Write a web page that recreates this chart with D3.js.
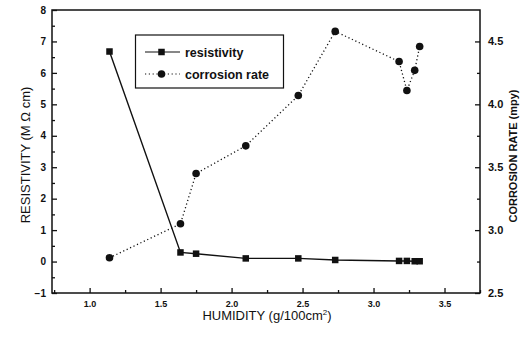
<!DOCTYPE html>
<html>
<head>
<meta charset="utf-8">
<script src="https://cdn.jsdelivr.net/npm/d3@7/dist/d3.min.js"></script>
<style>
  html, body { margin: 0; padding: 0; background: #fff; }
  svg { display: block; font-family: "Liberation Sans", Arial, sans-serif; }
</style>
</head>
<body>
<svg id="chart" width="528" height="341"></svg>
<script>
// Humidity (g/100cm^2) of each sample
const humidity = [1.14, 1.64, 1.75, 2.10, 2.47, 2.73, 3.18, 3.235, 3.29, 3.325];
// Resistivity (M Ω cm)
const resistivity = [6.68, 0.29, 0.25, 0.10, 0.10, 0.05, 0.02, 0.02, 0.01, 0.01];
// Corrosion rate (mpy)
const corrosion = [2.78, 3.05, 3.45, 3.67, 4.07, 4.58, 4.34, 4.11, 4.27, 4.46];

const xTicks = [1.0, 1.5, 2.0, 2.5, 3.0, 3.5];
const yLeftTicks = [-1, 0, 1, 2, 3, 4, 5, 6, 7, 8];
const yRightTicks = [2.5, 3.0, 3.5, 4.0, 4.5];

const svg = d3.select("#chart");
const m = { left: 52, right: 48, top: 10, bottom: 48 };
const W = 528, H = 341;

const x = d3.scaleLinear().domain([0.735, 3.75]).range([m.left, W - m.right]);
const yL = d3.scaleLinear().domain([-1, 8]).range([H - m.bottom, m.top]);
const yR = d3.scaleLinear().domain([2.5, 4.75]).range([H - m.bottom, m.top]);

const x0 = m.left, x1 = W - m.right, y0 = H - m.bottom, y1 = m.top;

// Frame
svg.append("rect")
  .attr("x", x0).attr("y", y1)
  .attr("width", x1 - x0).attr("height", y0 - y1)
  .attr("fill", "none").attr("stroke", "#111").attr("stroke-width", 1.5);

// Bottom axis: major ticks with labels, minor ticks between them
const minorX = d3.range(0.75, 3.76, 0.25).filter(v => !xTicks.some(t => Math.abs(t - v) < 1e-6));
const gx = svg.append("g").attr("transform", `translate(0,${y0})`);
gx.call(d3.axisBottom(x).tickValues(xTicks).tickFormat(d3.format(".1f")).tickSizeInner(-5).tickSizeOuter(0).tickPadding(8));
gx.append("g").call(d3.axisBottom(x).tickValues(minorX).tickFormat("").tickSizeInner(-3).tickSizeOuter(0));

// Left axis
const minorL = d3.range(-0.5, 8, 1);
const gl = svg.append("g").attr("transform", `translate(${x0},0)`);
gl.call(d3.axisLeft(yL).tickValues(yLeftTicks).tickFormat(d3.format("d")).tickSizeInner(-5).tickSizeOuter(0).tickPadding(6));
gl.append("g").call(d3.axisLeft(yL).tickValues(minorL).tickFormat("").tickSizeInner(-3).tickSizeOuter(0));

// Right axis
const minorR = d3.range(2.75, 4.75, 0.5);
const gr = svg.append("g").attr("transform", `translate(${x1},0)`);
gr.call(d3.axisRight(yR).tickValues(yRightTicks).tickFormat(d3.format(".1f")).tickSizeInner(-5).tickSizeOuter(0).tickPadding(8));
gr.append("g").call(d3.axisRight(yR).tickValues(minorR).tickFormat("").tickSizeInner(-3).tickSizeOuter(0));

svg.selectAll(".domain").remove();
svg.selectAll(".tick line").attr("stroke", "#111").attr("stroke-width", 1.3);
gx.selectAll(".tick text").attr("font-size", 9).attr("font-weight", "bold").attr("fill", "#111");
gl.selectAll(".tick text").attr("font-size", 10).attr("font-weight", "bold").attr("fill", "#111");
gr.selectAll(".tick text").attr("font-size", 11).attr("font-weight", "bold").attr("fill", "#111");

// Axis titles
const xt = svg.append("text")
  .attr("x", 267).attr("y", 320)
  .attr("text-anchor", "middle").attr("font-size", 13).attr("fill", "#111");
xt.append("tspan").text("HUMIDITY (g/100cm");
xt.append("tspan").attr("font-size", 8).attr("dy", -5).text("2");
xt.append("tspan").attr("dy", 5).text(")");

svg.append("text")
  .attr("transform", "translate(30,155) rotate(-90)")
  .attr("text-anchor", "middle").attr("font-size", 13).attr("fill", "#111")
  .text("RESISTIVITY (M Ω cm)");

svg.append("text")
  .attr("transform", "translate(517,156) rotate(-90)")
  .attr("text-anchor", "middle").attr("font-size", 11).attr("font-weight", "bold").attr("fill", "#111")
  .text("CORROSION RATE (mpy)");

// Series
const resData = humidity.map((h, i) => ({ x: h, y: resistivity[i] }));
const corData = humidity.map((h, i) => ({ x: h, y: corrosion[i] }));

svg.append("path")
  .datum(corData)
  .attr("fill", "none").attr("stroke", "#111").attr("stroke-width", 1.3)
  .attr("stroke-dasharray", "1.2,2.6")
  .attr("d", d3.line().x(d => x(d.x)).y(d => yR(d.y)));

svg.append("path")
  .datum(resData)
  .attr("fill", "none").attr("stroke", "#111").attr("stroke-width", 1.4)
  .attr("d", d3.line().x(d => x(d.x)).y(d => yL(d.y)));

svg.selectAll(".cor").data(corData).enter().append("circle")
  .attr("cx", d => x(d.x)).attr("cy", d => yR(d.y)).attr("r", 3.8).attr("fill", "#111");

const sq = 6.5;
svg.selectAll(".res").data(resData).enter().append("rect")
  .attr("x", d => x(d.x) - sq / 2).attr("y", d => yL(d.y) - sq / 2)
  .attr("width", sq).attr("height", sq).attr("fill", "#111");

// Legend
const lg = svg.append("g");
lg.append("rect").attr("x", 135.5).attr("y", 35).attr("width", 148).attr("height", 53)
  .attr("fill", "#fff").attr("stroke", "#111").attr("stroke-width", 1.2);
lg.append("line").attr("x1", 145).attr("x2", 180).attr("y1", 52).attr("y2", 52)
  .attr("stroke", "#111").attr("stroke-width", 1.2);
lg.append("rect").attr("x", 161.5 - sq / 2).attr("y", 52 - sq / 2).attr("width", sq).attr("height", sq).attr("fill", "#111");
lg.append("line").attr("x1", 145).attr("x2", 180).attr("y1", 74).attr("y2", 74)
  .attr("stroke", "#111").attr("stroke-width", 1.2).attr("stroke-dasharray", "1.2,2.6");
lg.append("circle").attr("cx", 161.5).attr("cy", 74).attr("r", 3.8).attr("fill", "#111");
lg.append("text").attr("x", 185).attr("y", 56.5).attr("font-size", 12.5).attr("font-weight", "bold").attr("fill", "#111").text("resistivity");
lg.append("text").attr("x", 185).attr("y", 78.5).attr("font-size", 12.5).attr("font-weight", "bold").attr("fill", "#111").text("corrosion rate");
</script>
</body>
</html>
